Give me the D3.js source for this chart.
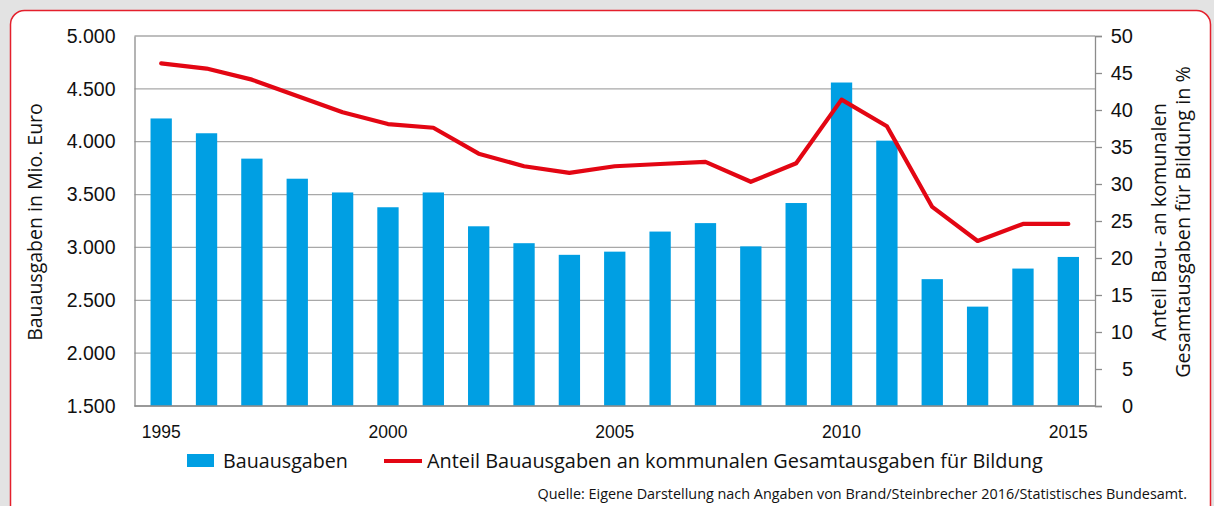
<!DOCTYPE html>
<html>
<head>
<meta charset="utf-8">
<script src="https://cdn.jsdelivr.net/npm/d3@7"></script>
<style>
  html, body { margin: 0; padding: 0; background: #e3e3e3; }
  svg { display: block; font-family: Lato, sans-serif; }
  .txt { font-family: "Open Sans", sans-serif; }
</style>
</head>
<body>
<div id="chart-container"></div>
<script>
// Jahre und Werte
const years = [1995, 1996, 1997, 1998, 1999, 2000, 2001, 2002, 2003, 2004, 2005,
               2006, 2007, 2008, 2009, 2010, 2011, 2012, 2013, 2014, 2015];
const bauausgaben = [4220, 4080, 3840, 3650, 3520, 3380, 3520, 3200, 3040, 2930, 2960,
                     3150, 3230, 3010, 3420, 4560, 4010, 2700, 2440, 2800, 2910];
const anteil = [46.3, 45.6, 44.1, 41.9, 39.7, 38.1, 37.6, 34.1, 32.4, 31.5, 32.4,
                32.7, 33.0, 30.3, 32.8, 41.4, 37.8, 26.9, 22.3, 24.6, 24.6];
const leftTicks = [1500, 2000, 2500, 3000, 3500, 4000, 4500, 5000];
const rightTicks = [0, 5, 10, 15, 20, 25, 30, 35, 40, 45, 50];
const yearLabels = [1995, 2000, 2005, 2010, 2015];

function drawChart() {
    const W = 1214, H = 506;
    const plot = { left: 134.5, right: 1095, top: 36, bottom: 406 };

    const svg = d3.select("#chart-container")
        .append("svg")
        .attr("width", W)
        .attr("height", H);

    // Rahmen
    svg.append("rect")
        .attr("x", 10.5).attr("y", 10.5)
        .attr("width", 1200).attr("height", 520)
        .attr("rx", 14)
        .attr("fill", "#fff")
        .attr("stroke", "#e4202c")
        .attr("stroke-width", 1.5);

    const x = d3.scaleBand()
        .domain(years)
        .range([plot.left + 4, plot.right - 4])
        .paddingInner(0.53)
        .paddingOuter(0.265);

    const yL = d3.scaleLinear().domain([1500, 5000]).range([plot.bottom, plot.top]);
    const yR = d3.scaleLinear().domain([0, 50]).range([plot.bottom, plot.top]);

    // Gitterlinien
    svg.append("g")
        .selectAll("line")
        .data(leftTicks)
        .enter().append("line")
        .attr("x1", plot.left).attr("x2", plot.right)
        .attr("y1", d => yL(d)).attr("y2", d => yL(d))
        .attr("stroke", "#a8a8a8")
        .attr("stroke-width", 1.3);

    // Balken
    svg.selectAll(".bar")
        .data(years)
        .enter().append("rect")
        .attr("class", "bar")
        .attr("x", d => x(d))
        .attr("width", x.bandwidth())
        .attr("y", (d, i) => yL(bauausgaben[i]))
        .attr("height", (d, i) => yL(1500) - yL(bauausgaben[i]))
        .attr("fill", "#009fe3");

    // Linie
    const line = d3.line()
        .x((d, i) => x(years[i]) + x.bandwidth() / 2)
        .y(d => yR(d));

    svg.append("path")
        .datum(anteil)
        .attr("d", line)
        .attr("fill", "none")
        .attr("stroke", "#e30613")
        .attr("stroke-width", 4.2)
        .attr("stroke-linejoin", "round")
        .attr("stroke-linecap", "round");

    // Achsen
    const fmt = d3.format(",");
    const de = v => fmt(v).replace(/,/g, ".");

    const gL = svg.append("g")
        .attr("transform", "translate(" + plot.left + ",0)")
        .call(d3.axisLeft(yL).tickValues(leftTicks).tickFormat(de).tickSize(0).tickPadding(19));
    gL.select(".domain").attr("stroke", "#8c8c8c").attr("stroke-width", 1.3);
    gL.selectAll("text").style("font-size", "19.5px").attr("fill", "#111");

    const gR = svg.append("g")
        .attr("transform", "translate(" + plot.right + ",0)")
        .call(d3.axisRight(yR).tickValues(rightTicks).tickSize(7).tickPadding(12));
    gR.select(".domain").attr("stroke", "#8c8c8c").attr("stroke-width", 1.3);
    gR.selectAll("line").attr("stroke", "#8c8c8c").attr("stroke-width", 1.3);
    gR.selectAll("text").style("font-size", "20px").attr("fill", "#111")
        .attr("text-anchor", "end").attr("x", 38);

    const gB = svg.append("g")
        .attr("transform", "translate(0," + plot.bottom + ")")
        .call(d3.axisBottom(x).tickValues(yearLabels).tickSize(0).tickPadding(20));
    gB.select(".domain").attr("d", "M" + plot.left + ",0H" + plot.right)
        .attr("stroke", "#8c8c8c").attr("stroke-width", 1.3);
    gB.selectAll("text").style("font-size", "17.5px").attr("fill", "#111");

    // Achsentitel
    svg.append("text")
        .attr("class", "txt")
        .attr("transform", "translate(42,222) rotate(-90)")
        .attr("text-anchor", "middle")
        .style("font-size", "19.5px")
        .attr("fill", "#111")
        .text("Bauausgaben in Mio. Euro");

    const rt = svg.append("text")
        .attr("class", "txt")
        .attr("transform", "translate(1166,222) rotate(-90)")
        .attr("text-anchor", "middle")
        .style("font-size", "19.8px")
        .attr("fill", "#111");
    rt.append("tspan").attr("x", 0).attr("dy", 0).text("Anteil Bau- an komunalen");
    rt.append("tspan").attr("x", 0).attr("dy", 24).text("Gesamtausgaben für Bildung in %");

    // Legende
    const leg = svg.append("g").attr("class", "txt");
    leg.append("rect")
        .attr("x", 187).attr("y", 454)
        .attr("width", 27).attr("height", 13)
        .attr("fill", "#009fe3");
    leg.append("text")
        .attr("x", 223).attr("y", 468)
        .style("font-size", "19.7px")
        .attr("fill", "#111")
        .text("Bauausgaben");
    leg.append("line")
        .attr("x1", 384).attr("x2", 422)
        .attr("y1", 461).attr("y2", 461)
        .attr("stroke", "#e30613")
        .attr("stroke-width", 4);
    leg.append("text")
        .attr("x", 427).attr("y", 468)
        .style("font-size", "19.9px")
        .attr("fill", "#111")
        .text("Anteil Bauausgaben an kommunalen Gesamtausgaben für Bildung");

    // Quelle
    svg.append("text")
        .attr("class", "txt")
        .attr("x", 1187).attr("y", 499)
        .attr("text-anchor", "end")
        .style("font-size", "14.4px")
        .attr("fill", "#111")
        .text("Quelle: Eigene Darstellung nach Angaben von Brand/Steinbrecher 2016/Statistisches Bundesamt.");
}

document.addEventListener("DOMContentLoaded", drawChart);
</script>
</body>
</html>
